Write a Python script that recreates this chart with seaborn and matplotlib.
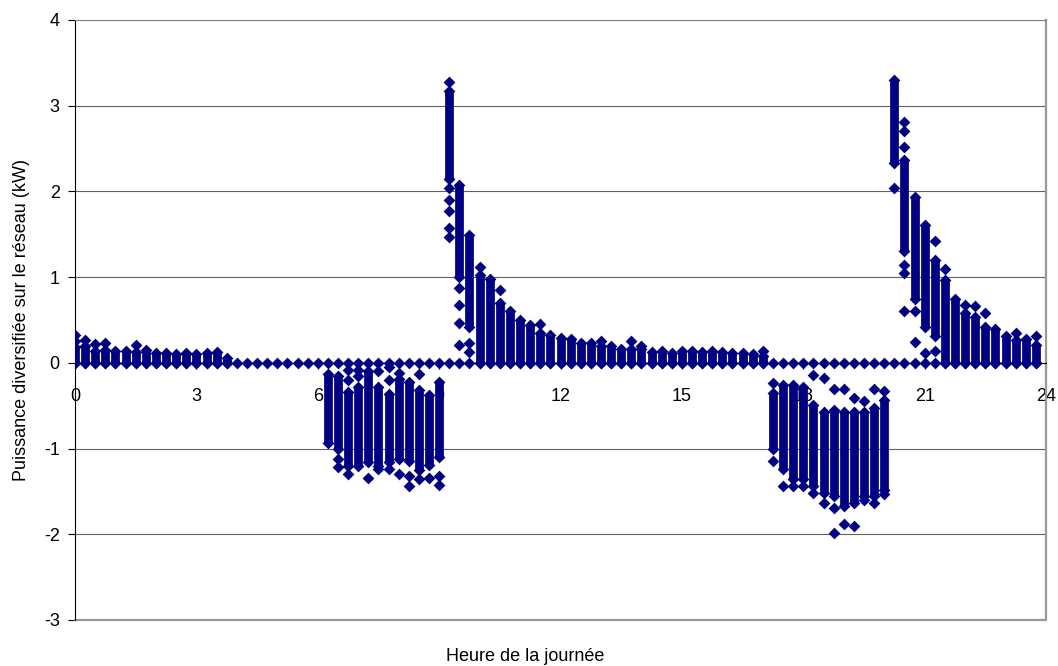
import numpy as np
import pandas as pd
import matplotlib
matplotlib.use("Agg")
import matplotlib.pyplot as plt
import seaborn as sns

nan = np.nan

# pas de 15 minutes sur la journée
hours = [i / 4 for i in range(96)]

# bande dense de points pour chaque pas de temps (bas / haut)
band_low = [
    0, 0, 0, 0, 0, 0, 0, 0, 0, 0, 0, 0, 0, 0, 0, 0,
    nan, nan, nan, nan, nan, nan, nan, nan, nan,
    -0.94, -1.0, -1.2, -1.2, -1.16, -1.2, -1.16, -1.12, -1.15, -1.25, -1.19, -1.1,
    2.14, 1.0, 0.42,
    0, 0, 0, 0, 0, 0, 0, 0, 0, 0, 0, 0, 0, 0, 0, 0, 0, 0, 0, 0, 0, 0, 0, 0, 0, 0, 0, 0, 0,
    -1.01, -1.24, -1.36, -1.36, -1.44, -1.52, -1.55, -1.67, -1.63, -1.55, -1.55, -1.48,
    2.33, 1.30, 0.75, 0.42, 0.31,
    0, 0, 0, 0, 0, 0, 0, 0, 0, 0,
]
band_high = [
    0.18, 0.2, 0.14, 0.15, 0.14, 0.14, 0.13, 0.15, 0.11, 0.11, 0.10, 0.12, 0.10, 0.12, 0.13, 0.06,
    nan, nan, nan, nan, nan, nan, nan, nan, nan,
    -0.13, -0.15, -0.34, -0.28, -0.1, -0.28, -0.36, -0.19, -0.22, -0.32, -0.38, -0.22,
    3.17, 2.08, 1.49,
    1.03, 0.98, 0.70, 0.61, 0.50, 0.44, 0.35, 0.33, 0.29, 0.28, 0.23, 0.23, 0.20, 0.20, 0.16,
    0.16, 0.16, 0.13, 0.14, 0.12, 0.14, 0.14, 0.13, 0.14, 0.13, 0.12, 0.11, 0.10, 0.08,
    -0.35, -0.26, -0.26, -0.28, -0.49, -0.57, -0.55, -0.57, -0.57, -0.57, -0.53, -0.43,
    3.30, 2.37, 1.94, 1.61, 1.20,
    0.97, 0.74, 0.58, 0.54, 0.42, 0.39, 0.31, 0.27, 0.28, 0.21,
]

# points isolés
outlier_hours = [
    0, 0, 0.25, 0.5, 0.75, 1.5,
    6.5, 6.5, 6.75, 6.75, 6.75, 7.0, 7.0, 7.25, 7.5, 7.5, 7.75, 7.75, 7.75,
    8.0, 8.0, 8.25, 8.25, 8.5, 8.5, 8.75, 9.0, 9.0,
    9.25, 9.25, 9.25, 9.25, 9.25, 9.25, 9.5, 9.5, 9.5, 9.5, 9.75, 9.75,
    10.0, 10.5, 11.5, 13.0, 13.75, 14.0, 17.0,
    17.25, 17.25, 17.5, 17.75, 18.0, 18.25, 18.25, 18.5, 18.5, 18.75, 18.75, 18.75,
    19.0, 19.0, 19.25, 19.25, 19.5, 19.5, 19.75, 19.75, 20.0, 20.0,
    20.25, 20.5, 20.5, 20.5, 20.5, 20.5, 20.5, 20.75, 20.75, 21.0, 21.25, 21.25,
    21.5, 22.0, 22.25, 22.5, 23.25, 23.75,
]
outlier_values = [
    0.33, 0.25, 0.27, 0.22, 0.23, 0.21,
    -1.12, -1.22, -0.08, -0.2, -1.3, -0.08, -0.15, -1.34, -0.1, -1.24, -0.05, -0.2, -1.24,
    -0.12, -1.3, -1.32, -1.44, -0.13, -1.36, -1.34, -1.32, -1.42,
    3.28, 2.04, 1.90, 1.77, 1.57, 1.47, 0.87, 0.68, 0.46, 0.21, 0.23, 0.13,
    1.12, 0.85, 0.45, 0.26, 0.26, 0.2, 0.14,
    -0.24, -1.15, -1.44, -1.44, -1.44, -0.14, -1.52, -0.18, -1.63, -0.31, -1.69, -1.98,
    -0.31, -1.88, -0.41, -1.9, -0.45, -1.6, -0.31, -1.63, -0.33, -1.53,
    2.04, 2.81, 2.71, 2.52, 1.14, 1.05, 0.61, 0.61, 0.24, 0.11, 1.42, 0.14,
    1.1, 0.68, 0.66, 0.58, 0.35, 0.31,
]
zero_row = [0.0] * len(hours)

navy = "#000080"

bands = pd.DataFrame({"heure": hours, "bas": band_low, "haut": band_high}).dropna()
pts = pd.concat([
    pd.DataFrame({"heure": hours, "p": zero_row}),
    pd.DataFrame({"heure": bands["heure"], "p": bands["bas"]}),
    pd.DataFrame({"heure": bands["heure"], "p": bands["haut"]}),
    pd.DataFrame({"heure": outlier_hours, "p": outlier_values}),
], ignore_index=True)

sns.set_style("white")
plt.rcParams["font.family"] = ["Liberation Sans", "DejaVu Sans"]
plt.rcParams["axes.unicode_minus"] = False
plt.rcParams["text.color"] = "black"
plt.rcParams["axes.labelcolor"] = "black"
plt.rcParams["xtick.color"] = "black"
plt.rcParams["ytick.color"] = "black"

fig = plt.figure(figsize=(10.58, 6.66), dpi=100)
ax = fig.add_axes([0.0709, 0.0691, 0.9178, 0.9009])

ax.vlines(bands["heure"], bands["bas"], bands["haut"], color=navy, linewidth=6.3, zorder=3)
sns.scatterplot(data=pts, x="heure", y="p", marker="D", s=36, color=navy,
                edgecolor=navy, linewidth=0, ax=ax, zorder=4)

ax.set_xlim(0, 24)
ax.set_ylim(-3, 4)
ax.set_xticks(range(0, 25, 3))
ax.set_yticks(range(-3, 5))
ax.yaxis.grid(True, color="#606060", linewidth=0.8)
ax.set_axisbelow(True)

ax.spines["bottom"].set_position(("data", 0))
ax.spines["bottom"].set_color("black")
ax.spines["left"].set_color("black")
ax.spines["top"].set_color("#808080")
ax.spines["right"].set_color("#999999")
ax.spines["right"].set_linewidth(1.6)
ax.axhline(-3, color="#999999", linewidth=1.6, clip_on=False, zorder=1)

ax.tick_params(axis="y", direction="out", length=5, width=0.8, colors="black",
               labelsize=13, pad=6, left=True)
ax.tick_params(axis="x", direction="out", length=4, width=0.8, colors="black",
               labelsize=13, pad=14, bottom=True)

ax.set_xlabel("Heure de la journée", fontsize=13, color="black")
ax.set_ylabel("Puissance diversifiée sur le réseau (kW)", fontsize=13, color="black")
ax.xaxis.set_label_coords(0.4634, -0.047)
ax.yaxis.set_label_coords(-0.046, 0.5)

plt.savefig("out.png", dpi=100)
